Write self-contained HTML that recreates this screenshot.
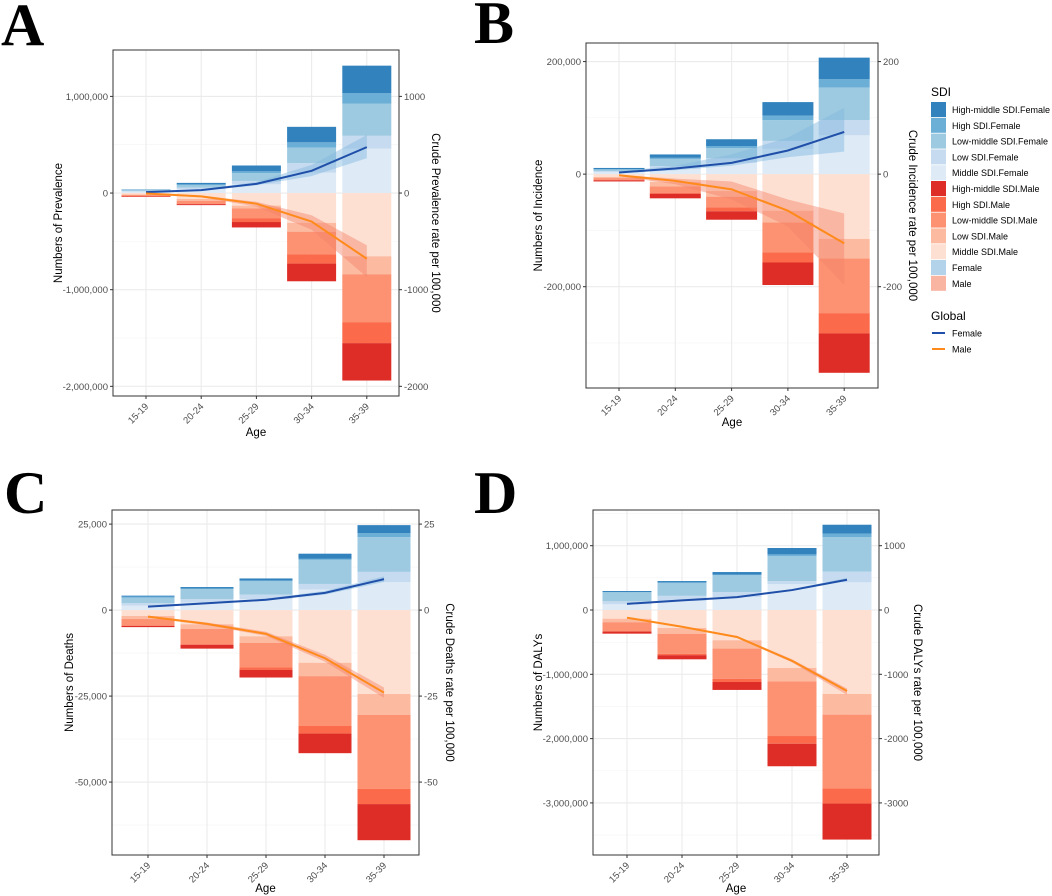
<!DOCTYPE html>
<html><head><meta charset="utf-8"><style>
html,body{margin:0;padding:0;background:#fff}
svg{display:block;font-family:"Liberation Sans",sans-serif}
</style></head><body>
<svg id="fig" width="1052" height="896" viewBox="0 0 1052 896" xmlns="http://www.w3.org/2000/svg"></svg>
<script>
const ages = ["15-19","20-24","25-29","30-34","35-39"];
const layerNamesF = ["Middle SDI.Female","Low SDI.Female","Low-middle SDI.Female","High SDI.Female","High-middle SDI.Female"];
const layerNamesM = ["Middle SDI.Male","Low SDI.Male","Low-middle SDI.Male","High SDI.Male","High-middle SDI.Male"];
const colorsF = ["#deebf7","#c6dbef","#9ecae1","#6baed6","#3182bd"];
const colorsM = ["#fee0d2","#fcbba1","#fc9272","#fb6a4a","#de2d26"];

// Panel A: prevalence (millions), rows = layers (middle, low, low-middle, high, high-middle), cols = ages
const prevFemale = [[0.015,0.04,0.09,0.21,0.46],[0.005,0.015,0.035,0.10,0.132],[0.01,0.025,0.08,0.16,0.332],[0.003,0.01,0.02,0.055,0.111],[0.004,0.015,0.06,0.16,0.283]];
const prevMale = [[0.015,0.06,0.13,0.308,0.654],[0.005,0.02,0.03,0.092,0.186],[0.01,0.03,0.10,0.233,0.496],[0.004,0.005,0.04,0.097,0.217],[0.006,0.01,0.056,0.183,0.387]];
const prevRateF = [10,30,95,230,475];
const prevRateFLo = [5,22,80,175,360];
const prevRateFHi = [15,38,115,290,600];
const prevRateM = [-5,-35,-110,-295,-680];
const prevRateMLo = [-3,-25,-90,-230,-540];
const prevRateMHi = [-8,-45,-140,-380,-870];

// Panel B: incidence (thousands)
const incFemale = [[4,10,20,45,69],[1,4,8,14,27],[3,13,18,37,58],[1,2,4,8,15],[2,6,12,24,38]];
const incMale = [[5,14,30,65,115],[2,8,10,21,35],[3,11,19,53,97],[1,2,7,18,36],[2,8,15,40,70]];
const incRateF = [3,10,20,42,75];
const incRateFLo = [2,7,15,30,40];
const incRateFHi = [5,15,35,65,118];
const incRateM = [-2,-12,-27,-65,-123];
const incRateMLo = [-1,-8,-13,-45,-70];
const incRateMHi = [-4,-18,-45,-93,-197];

// Panel C: deaths (thousands)
const deathFemale = [[1.3,2.2,3.2,6.0,8.1],[0.7,1.0,1.3,1.6,3.0],[1.6,2.9,4.0,7.0,10.1],[0.3,0.2,0.1,0.3,1.2],[0.3,0.4,0.6,1.5,2.3]];
const deathMale = [[1.7,4.1,7.6,15.3,24.4],[0.9,1.4,1.9,3.9,6.1],[1.9,4.4,7.2,14.5,21.5],[0.1,0.2,0.7,2.2,4.4],[0.35,1.1,2.2,5.7,10.5]];
const deathRateF = [1.0,2.0,3.0,5.0,9.0];
const deathRateFLo = [0.8,1.8,2.7,4.5,8.2];
const deathRateFHi = [1.2,2.2,3.3,5.6,9.8];
const deathRateM = [-1.9,-4.0,-6.9,-14,-24];
const deathRateMLo = [-1.6,-3.6,-6.3,-13,-22.5];
const deathRateMHi = [-2.2,-4.4,-7.5,-15,-25.5];

// Panel D: DALYs (millions)
const dalyFemale = [[0.088,0.14,0.2,0.4,0.43],[0.047,0.08,0.08,0.05,0.166],[0.14,0.2,0.26,0.39,0.539],[0.005,0.01,0.01,0.025,0.055],[0.015,0.02,0.04,0.099,0.136]];
const dalyMale = [[0.135,0.28,0.47,0.9,1.306],[0.055,0.093,0.13,0.21,0.321],[0.14,0.31,0.47,0.85,1.15],[0.005,0.02,0.05,0.12,0.233],[0.033,0.064,0.123,0.35,0.56]];
const dalyRateF = [95,150,200,310,470];
const dalyRateFLo = [88,142,190,295,450];
const dalyRateFHi = [102,158,210,325,500];
const dalyRateM = [-120,-260,-420,-790,-1260];
const dalyRateMLo = [-110,-248,-405,-765,-1220];
const dalyRateMHi = [-130,-272,-435,-815,-1320];

// Tick values & labels
const prevTicks = [1,0,-1,-2];
const prevTickLabels = ["1,000,000","0","-1,000,000","-2,000,000"];
const prevRateTicks = ["1000","0","-1000","-2000"];
const incTicks = [200,0,-200];
const incTickLabels = ["200,000","0","-200,000"];
const incRateTicks = ["200","0","-200"];
const deathTicks = [25,0,-25,-50];
const deathTickLabels = ["25,000","0","-25,000","-50,000"];
const deathRateTicks = ["25","0","-25","-50"];
const dalyTicks = [1,0,-1,-2,-3];
const dalyTickLabels = ["1,000,000","0","-1,000,000","-2,000,000","-3,000,000"];
const dalyRateTicks = ["1000","0","-1000","-2000","-3000"];

const NS = "http://www.w3.org/2000/svg";
const svg = document.getElementById('fig');
function mk(tag, attrs, parent){
  const e = document.createElementNS(NS, tag);
  for (const k in attrs) e.setAttribute(k, attrs[k]);
  (parent||svg).appendChild(e);
  return e;
}

function drawPanel(cfg){
  const g = mk('g', {});
  
  
  const [L,T,R,B] = cfg.box;
  const y = v => T + (cfg.dom[1]-v)/(cfg.dom[1]-cfg.dom[0])*(B-T);
  const x = i => cfg.x0 + i*cfg.step;
  mk('rect',{x:L,y:T,width:R-L,height:B-T,fill:'#fff'},g);
  const minor = [];
  for (let i=0;i<cfg.ticks.length-1;i++) minor.push((cfg.ticks[i]+cfg.ticks[i+1])/2);
  minor.push(cfg.ticks[0]+(cfg.ticks[0]-cfg.ticks[1])/2);
  minor.push(cfg.ticks[cfg.ticks.length-1]-(cfg.ticks[0]-cfg.ticks[1])/2);
  minor.forEach(v=>{ const yy=y(v); if(yy>T&&yy<B) mk('line',{x1:L,x2:R,y1:yy,y2:yy,stroke:'#f4f4f4','stroke-width':0.6},g); });
  cfg.ticks.forEach(v=>mk('line',{x1:L,x2:R,y1:y(v),y2:y(v),stroke:'#ebebeb','stroke-width':1.1},g));
  ages.forEach((a,i)=>mk('line',{x1:x(i),x2:x(i),y1:T,y2:B,stroke:'#ebebeb','stroke-width':1.1},g));
  ages.forEach((a,i)=>{
    let c=0;
    cfg.female.forEach((row,li)=>{
      const v=row[i];
      const r=mk('rect',{x:x(i)-cfg.bw/2,y:y(c+v),width:cfg.bw,height:Math.max(0,y(c)-y(c+v)),fill:colorsF[li]},g);
      
      
      c+=v;
    });
    c=0;
    cfg.male.forEach((row,li)=>{
      const v=row[i];
      const r=mk('rect',{x:x(i)-cfg.bw/2,y:y(c),width:cfg.bw,height:Math.max(0,y(c-v)-y(c)),fill:colorsM[li]},g);
      
      
      c-=v;
    });
  });
  const f=cfg.rf;
  function ribbon(lo,hi,color,name){
    let d='';
    ages.forEach((a,i)=>{d+=(i?'L':'M')+x(i)+','+y(hi[i]*f);});
    for(let i=ages.length-1;i>=0;i--) d+='L'+x(i)+','+y(lo[i]*f);
    const p=mk('path',{d:d+'Z',fill:color,'fill-opacity':0.45},g);
    
    
  }
  function line(vals,color,name){
    const p=mk('polyline',{points:vals.map((v,i)=>x(i)+','+y(v*f)).join(' '),fill:'none',stroke:color,'stroke-width':2},g);
    
    
  }
  ribbon(cfg.rateFLo,cfg.rateFHi,'#7fb6dd','female');
  ribbon(cfg.rateMLo,cfg.rateMHi,'#f4826a','male');
  line(cfg.rateF,'#1f4fa8','female');
  line(cfg.rateM,'#ff8a1c','male');
  mk('rect',{x:L,y:T,width:R-L,height:B-T,fill:'none',stroke:'#333','stroke-width':1},g);
  cfg.ticks.forEach((v,i)=>{
    const yy=y(v);
    mk('line',{x1:L-3,x2:L,y1:yy,y2:yy,stroke:'#333'},g);
    mk('line',{x1:R,x2:R+3,y1:yy,y2:yy,stroke:'#333'},g);
    const t=mk('text',{x:L-5,y:yy+3.5,'text-anchor':'end','font-size':9.5,fill:'#4d4d4d'},g);
    t.textContent=cfg.tickLabels[i];
    
    
    const t2=mk('text',{x:R+5,y:yy+3.5,'text-anchor':'start','font-size':9.5,fill:'#4d4d4d'},g);
    t2.textContent=cfg.rateLabels[i];
    
    
  });
  ages.forEach((a,i)=>{
    mk('line',{x1:x(i),x2:x(i),y1:B,y2:B+3,stroke:'#333'},g);
    const t=mk('text',{x:x(i)+3,y:B+11,'text-anchor':'end','font-size':9.5,fill:'#4d4d4d',transform:'rotate(-45 '+(x(i)+3)+' '+(B+11)+')'},g);
    t.textContent=a;
    
    
  });
  const at=mk('text',{x:(L+R)/2,y:cfg.ageY,'text-anchor':'middle','font-size':11.5,fill:'#000'},g);
  at.textContent='Age';
  
  
  const cy=(T+B)/2;
  const lt=mk('text',{x:cfg.ltX,y:cy,'text-anchor':'middle','font-size':11.5,fill:'#000',transform:'rotate(-90 '+cfg.ltX+' '+cy+')'},g);
  lt.textContent=cfg.leftTitle;
  
  
  const rt=mk('text',{x:cfg.rtX,y:cy,'text-anchor':'middle','font-size':11.5,fill:'#000',transform:'rotate(90 '+cfg.rtX+' '+cy+')'},g);
  rt.textContent=cfg.rightTitle;
  
  
  const lab=mk('text',{x:cfg.letter[0],y:cfg.letter[1],'font-family':'Liberation Serif,serif','font-weight':'bold','font-size':60,fill:'#000'},g);
  lab.textContent=cfg.id;
  
  
}

drawPanel({id:'A',box:[113,50,399,396],dom:[-2.1,1.48],x0:146,step:55.2,bw:49,female:prevFemale,male:prevMale,rf:0.001,
  rateF:prevRateF,rateFLo:prevRateFLo,rateFHi:prevRateFHi,rateM:prevRateM,rateMLo:prevRateMLo,rateMHi:prevRateMHi,
  ticks:prevTicks,tickLabels:prevTickLabels,rateLabels:prevRateTicks,ageY:436,ltX:62,rtX:432,
  leftTitle:'Numbers of Prevalence',rightTitle:'Crude Prevalence rate per 100,000',letter:[1,45]});
drawPanel({id:'B',box:[586,43,878,388],dom:[-380,233],x0:619,step:56.3,bw:51,female:incFemale,male:incMale,rf:1,
  rateF:incRateF,rateFLo:incRateFLo,rateFHi:incRateFHi,rateM:incRateM,rateMLo:incRateMLo,rateMHi:incRateMHi,
  ticks:incTicks,tickLabels:incTickLabels,rateLabels:incRateTicks,ageY:426,ltX:542,rtX:909,
  leftTitle:'Numbers of Incidence',rightTitle:'Crude Incidence rate per 100,000',letter:[474,43]});
drawPanel({id:'C',box:[112,510,419,855],dom:[-71.2,29.1],x0:148,step:59,bw:53,female:deathFemale,male:deathMale,rf:1,
  rateF:deathRateF,rateFLo:deathRateFLo,rateFHi:deathRateFHi,rateM:deathRateM,rateMLo:deathRateMLo,rateMHi:deathRateMHi,
  ticks:deathTicks,tickLabels:deathTickLabels,rateLabels:deathRateTicks,ageY:892,ltX:73,rtX:446,
  leftTitle:'Numbers of Deaths',rightTitle:'Crude Deaths rate per 100,000',letter:[4,513]});
drawPanel({id:'D',box:[593,510,879,855],dom:[-3.81,1.555],x0:627,step:55,bw:49,female:dalyFemale,male:dalyMale,rf:0.001,
  rateF:dalyRateF,rateFLo:dalyRateFLo,rateFHi:dalyRateFHi,rateM:dalyRateM,rateMLo:dalyRateMLo,rateMHi:dalyRateMHi,
  ticks:dalyTicks,tickLabels:dalyTickLabels,rateLabels:dalyRateTicks,ageY:892,ltX:542,rtX:914,
  leftTitle:'Numbers of DALYs',rightTitle:"Crude DALYs rate per 100,000",letter:[474,513]});

const legendLabels = ["High-middle SDI.Female","High SDI.Female","Low-middle SDI.Female","Low SDI.Female","Middle SDI.Female","High-middle SDI.Male","High SDI.Male","Low-middle SDI.Male","Low SDI.Male","Middle SDI.Male","Female","Male"];
const legendColors = ["#3182bd","#6baed6","#9ecae1","#c6dbef","#deebf7","#de2d26","#fb6a4a","#fc9272","#fcbba1","#fee0d2","#b3d3ea","#f9b4a2"];
const lg = mk('g',{});


const st=mk('text',{x:931,y:96,'font-size':12,fill:'#000'},lg); st.textContent='SDI';
legendLabels.forEach((lab,i)=>{
  const yy=102+i*15.8;
  const r=mk('rect',{x:931,y:yy,width:15,height:15,fill:legendColors[i]},lg);
  
  
  const t=mk('text',{x:952,y:yy+11,'font-size':9,fill:'#000'},lg);
  t.textContent=lab;
  
  
});
const gt=mk('text',{x:931,y:320,'font-size':12,fill:'#000'},lg); gt.textContent='Global';
[["Female","#1f4fa8"],["Male","#ff8a1c"]].forEach((p,i)=>{
  const yy=333+i*16;
  mk('line',{x1:932,x2:945,y1:yy,y2:yy,stroke:p[1],'stroke-width':2},lg);
  const t=mk('text',{x:952,y:yy+3.5,'font-size':9,fill:'#000'},lg);
  t.textContent=p[0];
  
  
});
</script>
</body></html>
